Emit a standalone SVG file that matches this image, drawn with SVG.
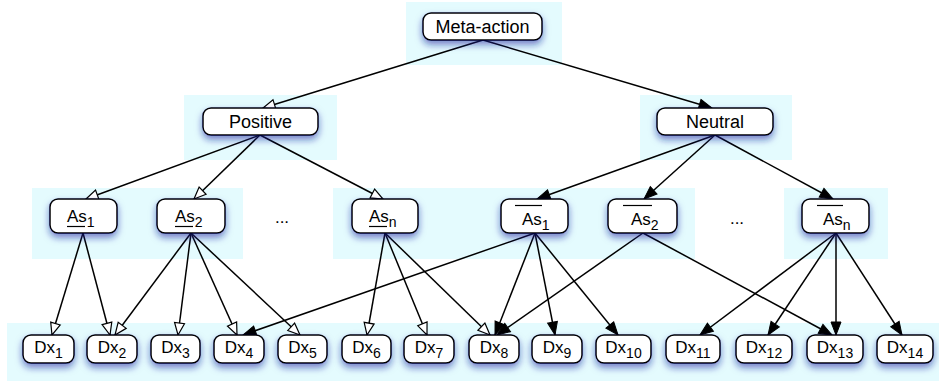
<svg xmlns="http://www.w3.org/2000/svg" width="939" height="383" viewBox="0 0 939 383">
<style>
  .bg { fill: #e4fbfe; }
  .box { fill: #ffffff; stroke: #000000; stroke-width: 1.5; filter: url(#shadow); }
  .lbl { font-family: "Liberation Sans", Arial, Helvetica, sans-serif; font-size: 18px; fill: #000; text-anchor: middle; }
  .sm { font-family: "Liberation Sans", Arial, Helvetica, sans-serif; font-size: 17px; fill: #000; }
  .mid { text-anchor: middle; }
  .sub { font-size: 14px; }
  .bar { stroke: #000; stroke-width: 1.2; }
  .edge { stroke: #000; stroke-width: 1.5; fill: none; }
  .open { marker-end: url(#openArrow); }
  .fill { marker-end: url(#fillArrow); }
</style>
<defs>
  <filter id="shadow" x="-30%" y="-40%" width="160%" height="200%">
    <feDropShadow dx="0" dy="4" stdDeviation="3.5" flood-color="#0a1a9c" flood-opacity="0.55"/>
  </filter>
  <marker id="openArrow" markerUnits="userSpaceOnUse" markerWidth="14" markerHeight="12" refX="12" refY="5" orient="auto" overflow="visible">
    <path d="M0,0 L12,5 L0,10 z" fill="#ffffff" stroke="#000" stroke-width="1.2"/>
  </marker>
  <marker id="fillArrow" markerUnits="userSpaceOnUse" markerWidth="14" markerHeight="12" refX="13" refY="5" orient="auto" overflow="visible">
    <path d="M0,0 L13,5 L0,10 z" fill="#000" stroke="#000" stroke-width="1"/>
  </marker>
</defs>

<g id="backgrounds">
  <rect class="bg" x="406" y="2" width="156" height="63"/>
  <rect class="bg" x="184" y="95" width="153" height="65"/>
  <rect class="bg" x="640" y="95" width="152" height="65"/>
  <rect class="bg" x="32" y="188" width="211" height="71"/>
  <rect class="bg" x="333" y="188" width="362" height="71"/>
  <rect class="bg" x="784" y="188" width="104" height="71"/>
  <rect class="bg" x="7" y="323" width="932" height="58"/>
</g>

<g id="connectors">
  <line class="edge open" x1="483" y1="40" x2="263" y2="108"/>
  <line class="edge fill" x1="483" y1="40" x2="712" y2="108"/>
  <line class="edge open" x1="260" y1="135" x2="86" y2="199"/>
  <line class="edge open" x1="260" y1="135" x2="194" y2="199"/>
  <line class="edge open" x1="260" y1="135" x2="383" y2="199"/>
  <line class="edge fill" x1="715" y1="135" x2="537" y2="199"/>
  <line class="edge fill" x1="715" y1="135" x2="644" y2="199"/>
  <line class="edge fill" x1="715" y1="135" x2="833" y2="199"/>
  <line class="edge open" x1="83" y1="233" x2="52" y2="335"/>
  <line class="edge open" x1="83" y1="233" x2="110" y2="335"/>
  <line class="edge open" x1="191" y1="233" x2="115" y2="335"/>
  <line class="edge open" x1="191" y1="233" x2="178" y2="335"/>
  <line class="edge open" x1="191" y1="233" x2="237" y2="335"/>
  <line class="edge open" x1="191" y1="233" x2="300" y2="335"/>
  <line class="edge open" x1="385" y1="233" x2="367" y2="335"/>
  <line class="edge open" x1="385" y1="233" x2="427" y2="335"/>
  <line class="edge open" x1="385" y1="233" x2="490" y2="335"/>
  <line class="edge fill" x1="535" y1="233" x2="243" y2="335"/>
  <line class="edge fill" x1="535" y1="233" x2="495" y2="335"/>
  <line class="edge fill" x1="535" y1="233" x2="555" y2="335"/>
  <line class="edge fill" x1="535" y1="233" x2="618" y2="335"/>
  <line class="edge fill" x1="643" y1="233" x2="497" y2="335"/>
  <line class="edge fill" x1="643" y1="233" x2="832" y2="335"/>
  <line class="edge fill" x1="836" y1="233" x2="700" y2="335"/>
  <line class="edge fill" x1="836" y1="233" x2="768" y2="335"/>
  <line class="edge fill" x1="836" y1="233" x2="836" y2="335"/>
  <line class="edge fill" x1="836" y1="233" x2="902" y2="335"/>
</g>

<g id="meta-action">
  <rect class="box" x="423" y="13" width="119" height="27" rx="8"/>
  <text class="lbl" x="482.5" y="33">Meta-action</text>
</g>
<g id="positive">
  <rect class="box" x="203" y="108" width="115" height="27" rx="8"/>
  <text class="lbl" x="260.5" y="128">Positive</text>
</g>
<g id="neutral">
  <rect class="box" x="657" y="108" width="116" height="27" rx="8"/>
  <text class="lbl" x="715" y="128">Neutral</text>
</g>

<g id="as1">
  <rect class="box" x="50" y="199" width="67" height="34" rx="8"/>
  <text class="sm" x="67" y="222">As<tspan class="sub" dy="5">1</tspan></text>
  <line class="bar" x1="67" y1="226.5" x2="85" y2="226.5"/>
</g>
<g id="as2">
  <rect class="box" x="157" y="199" width="68" height="34" rx="8"/>
  <text class="sm" x="175" y="222">As<tspan class="sub" dy="5">2</tspan></text>
  <line class="bar" x1="175" y1="226.5" x2="193" y2="226.5"/>
</g>
<g id="dots-left">
  <text class="sm mid" x="282" y="223">...</text>
</g>
<g id="asn">
  <rect class="box" x="352" y="199" width="66" height="34" rx="8"/>
  <text class="sm" x="369" y="222">As<tspan class="sub" dy="5">n</tspan></text>
  <line class="bar" x1="369" y1="226.5" x2="387" y2="226.5"/>
</g>
<g id="nas1">
  <rect class="box" x="501" y="199" width="67" height="34" rx="8"/>
  <line class="bar" x1="515" y1="205.5" x2="542" y2="205.5"/>
  <text class="sm" x="522" y="225">As<tspan class="sub" dy="5">1</tspan></text>
</g>
<g id="nas2">
  <rect class="box" x="608" y="199" width="69" height="34" rx="8"/>
  <line class="bar" x1="623" y1="205.5" x2="652" y2="205.5"/>
  <text class="sm" x="631" y="225">As<tspan class="sub" dy="5">2</tspan></text>
</g>
<g id="dots-right">
  <text class="sm mid" x="737" y="224">...</text>
</g>
<g id="nasn">
  <rect class="box" x="802" y="199" width="67" height="34" rx="8"/>
  <line class="bar" x1="817" y1="205.5" x2="843" y2="205.5"/>
  <text class="sm" x="823" y="225">As<tspan class="sub" dy="5">n</tspan></text>
</g>

<g id="dx1"><rect class="box" x="23" y="335" width="51" height="28" rx="8"/><text class="sm mid" x="48.5" y="353">Dx<tspan class="sub" dy="5">1</tspan></text></g>
<g id="dx2"><rect class="box" x="87" y="335" width="50" height="28" rx="8"/><text class="sm mid" x="112" y="353">Dx<tspan class="sub" dy="5">2</tspan></text></g>
<g id="dx3"><rect class="box" x="151" y="335" width="49" height="28" rx="8"/><text class="sm mid" x="175.5" y="353">Dx<tspan class="sub" dy="5">3</tspan></text></g>
<g id="dx4"><rect class="box" x="214" y="335" width="50" height="28" rx="8"/><text class="sm mid" x="239" y="353">Dx<tspan class="sub" dy="5">4</tspan></text></g>
<g id="dx5"><rect class="box" x="278" y="335" width="49" height="28" rx="8"/><text class="sm mid" x="302.5" y="353">Dx<tspan class="sub" dy="5">5</tspan></text></g>
<g id="dx6"><rect class="box" x="342" y="335" width="49" height="28" rx="8"/><text class="sm mid" x="366.5" y="353">Dx<tspan class="sub" dy="5">6</tspan></text></g>
<g id="dx7"><rect class="box" x="404" y="335" width="50" height="28" rx="8"/><text class="sm mid" x="429" y="353">Dx<tspan class="sub" dy="5">7</tspan></text></g>
<g id="dx8"><rect class="box" x="469" y="335" width="50" height="28" rx="8"/><text class="sm mid" x="494" y="353">Dx<tspan class="sub" dy="5">8</tspan></text></g>
<g id="dx9"><rect class="box" x="532" y="335" width="50" height="28" rx="8"/><text class="sm mid" x="557" y="353">Dx<tspan class="sub" dy="5">9</tspan></text></g>
<g id="dx10"><rect class="box" x="596" y="335" width="55" height="28" rx="8"/><text class="sm mid" x="623.5" y="353">Dx<tspan class="sub" dy="5">10</tspan></text></g>
<g id="dx11"><rect class="box" x="666" y="335" width="54" height="28" rx="8"/><text class="sm mid" x="693" y="353">Dx<tspan class="sub" dy="5">11</tspan></text></g>
<g id="dx12"><rect class="box" x="736" y="335" width="56" height="28" rx="8"/><text class="sm mid" x="764" y="353">Dx<tspan class="sub" dy="5">12</tspan></text></g>
<g id="dx13"><rect class="box" x="807" y="335" width="56" height="28" rx="8"/><text class="sm mid" x="835" y="353">Dx<tspan class="sub" dy="5">13</tspan></text></g>
<g id="dx14"><rect class="box" x="877" y="335" width="56" height="28" rx="8"/><text class="sm mid" x="905" y="353">Dx<tspan class="sub" dy="5">14</tspan></text></g>
</svg>
